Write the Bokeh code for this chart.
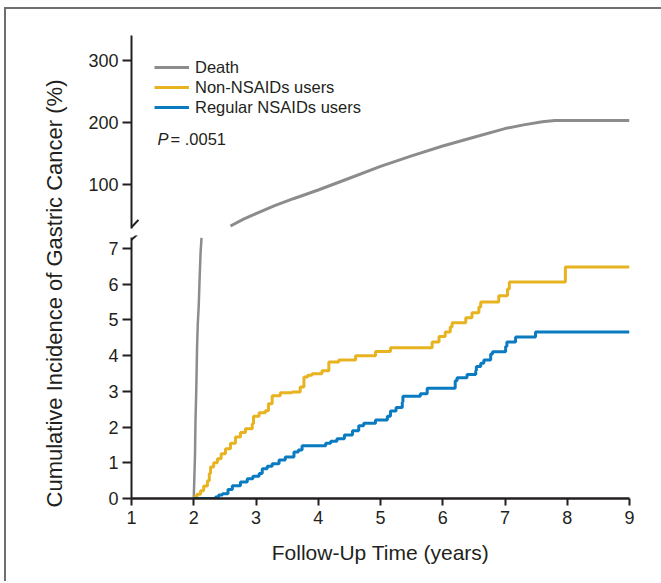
import math
from bokeh.plotting import figure
from bokeh.layouts import row, column
from bokeh.models import Range1d, Label, Arrow, Legend, LegendItem, FixedTicker
from bokeh.embed import file_html
from bokeh.resources import INLINE

# ---------------- data ----------------
x_ticks = [1, 2, 3, 4, 5, 6, 7, 8, 9]
low_ticks = [0, 1, 2, 3, 4, 5, 6, 7]
high_ticks = [100, 200, 300]

# Death (lower segment, steep rise, %)
death_low_t = [2.0, 2.01, 2.02, 2.027, 2.04, 2.054, 2.065, 2.08, 2.095, 2.11, 2.125]
death_low_v = [0.0, 0.6, 1.2, 2.1, 3.0, 4.3, 4.9, 5.4, 6.2, 6.9, 7.3]
# Death (upper segment, %)
death_high_t = [2.59, 2.8, 3.0, 3.3, 3.6, 4.0, 4.5, 5.0, 5.5, 6.0, 6.5, 7.0, 7.3, 7.6, 7.8, 9.0]
death_high_v = [33, 44, 53, 66, 77, 91, 110, 129, 146, 162, 176, 190, 196, 201, 203, 203]

# Non-NSAIDs users
non_t = [2.0, 2.05, 2.11, 2.16, 2.22, 2.25, 2.27, 2.32, 2.38, 2.44, 2.51, 2.59, 2.67, 2.75,
         2.83, 2.94, 2.96, 3.05, 3.15, 3.2, 3.26, 3.39, 3.58, 3.71, 3.77, 3.83, 3.90, 4.06,
         4.17, 4.33, 4.60, 4.92, 5.16, 5.83, 5.94, 6.04, 6.12, 6.15, 6.37, 6.47, 6.58, 6.61,
         6.90, 7.04, 7.07, 7.97, 9.0]
non_v = [0.05, 0.12, 0.22, 0.35, 0.5, 0.7, 0.88, 1.0, 1.11, 1.25, 1.39, 1.55, 1.72, 1.85,
         1.95, 2.09, 2.3, 2.4, 2.46, 2.65, 2.88, 2.96, 2.98, 3.12, 3.4, 3.45, 3.49, 3.58,
         3.82, 3.88, 4.0, 4.12, 4.22, 4.38, 4.54, 4.66, 4.80, 4.92, 5.06, 5.2, 5.36, 5.5,
         5.68, 5.87, 6.06, 6.48, 6.48]

# Regular NSAIDs users
reg_t = [2.0, 2.35, 2.40, 2.46, 2.55, 2.62, 2.75, 2.86, 2.95, 3.05, 3.10, 3.18, 3.26, 3.37,
         3.47, 3.61, 3.68, 3.74, 4.12, 4.20, 4.30, 4.42, 4.55, 4.65, 4.73, 4.92, 5.11, 5.16,
         5.25, 5.35, 5.36, 5.64, 5.75, 6.2, 6.23, 6.39, 6.53, 6.54, 6.61, 6.66, 6.77, 6.80,
         7.01, 7.03, 7.17, 7.49, 9.0]
reg_v = [0.0, 0.04, 0.1, 0.13, 0.25, 0.36, 0.46, 0.55, 0.62, 0.70, 0.83, 0.9, 0.97, 1.08,
         1.16, 1.30, 1.36, 1.48, 1.55, 1.60, 1.67, 1.78, 1.9, 2.04, 2.11, 2.20, 2.30, 2.45,
         2.55, 2.70, 2.86, 2.93, 3.09, 3.30, 3.38, 3.47, 3.58, 3.70, 3.79, 3.88, 4.05, 4.11,
         4.26, 4.38, 4.52, 4.66, 4.66]

series_names = ["Death", "Non-NSAIDs users", "Regular NSAIDs users"]
p_text = "= .0051"

# ---------------- style ----------------
GRAY = "#8c8c8e"
YELLOW = "#e8b321"
BLUE = "#0a7bc1"
INK = "#231f20"
FONT = "Liberation Sans"

FRAME_W = 498
LEFT = 53
RIGHT = 32


def style_axis(ax, tick_out):
    ax.axis_line_width = 2
    ax.axis_line_color = INK
    ax.major_tick_line_width = 2
    ax.major_tick_line_color = INK
    ax.major_tick_out = tick_out
    ax.major_tick_in = 0
    ax.minor_tick_out = 0
    ax.minor_tick_in = 0
    ax.major_label_text_font = FONT
    ax.major_label_text_font_size = "18px"
    ax.major_label_text_color = INK


def base_fig(height, y_range, x_range, top, bottom, x_axis):
    f = figure(width=LEFT + FRAME_W + RIGHT, height=height, x_range=x_range, y_range=y_range,
               toolbar_location=None, output_backend="svg",
               min_border_left=LEFT, min_border_right=RIGHT,
               min_border_top=top, min_border_bottom=bottom,
               x_axis_location="below" if x_axis else None)
    f.outline_line_color = None
    f.xgrid.visible = False
    f.ygrid.visible = False
    f.background_fill_color = "white"
    f.border_fill_color = "white"
    return f


xr = Range1d(1, 9)

# ---------------- upper panel ----------------
top = base_fig(223, Range1d(29, 340), xr, 26, 4, False)
style_axis(top.yaxis[0], 9)
top.yaxis[0].ticker = FixedTicker(ticks=high_ticks)
top.yaxis[0].major_label_standoff = 4

r_death_high = top.line(death_high_t, death_high_v, line_color=GRAY, line_width=3)
# legend proxies (their points lie below this panel's range, so only the legend shows them)
r_non_proxy = top.line(non_t[:2], non_v[:2], line_color=YELLOW, line_width=3)
r_reg_proxy = top.line(reg_t[:2], reg_v[:2], line_color=BLUE, line_width=3)

legend = Legend(items=[LegendItem(label=series_names[0], renderers=[r_death_high]),
                       LegendItem(label=series_names[1], renderers=[r_non_proxy]),
                       LegendItem(label=series_names[2], renderers=[r_reg_proxy])],
                location=(23, 111), padding=0, margin=0, spacing=0,
                glyph_width=35, glyph_height=20, label_height=20, label_standoff=6,
                label_text_font=FONT, label_text_font_size="16.5px", label_text_color=INK,
                border_line_color=None, background_fill_alpha=0)
top.add_layout(legend)

top.add_layout(Label(x=1.418, y=174, text="P", text_font=FONT, text_font_size="16.5px",
                     text_font_style="italic", text_color=INK, text_baseline="middle"))
top.add_layout(Label(x=1.627, y=174, text=p_text, text_font=FONT, text_font_size="16.5px",
                     text_color=INK, text_baseline="middle"))

top.add_layout(Arrow(x_start=0.952, y_start=25.8, x_end=1.112, y_end=43.0,
                     start=None, end=None, line_color=INK, line_width=2))

# ---------------- lower panel ----------------
bot = base_fig(349, Range1d(0, 7.365), xr, 3, 83, True)
style_axis(bot.yaxis[0], 9)
bot.yaxis[0].ticker = FixedTicker(ticks=low_ticks)
bot.yaxis[0].bounds = (0, 7.3)
bot.yaxis[0].major_label_standoff = 4
style_axis(bot.xaxis[0], 7)
bot.xaxis[0].axis_line_width = 2.5
bot.xaxis[0].ticker = FixedTicker(ticks=x_ticks)
bot.xaxis[0].major_label_standoff = 5
bot.xaxis[0].axis_label = "Follow-Up Time (years)"
bot.xaxis[0].axis_label_text_font = FONT
bot.xaxis[0].axis_label_text_font_size = "21px"
bot.xaxis[0].axis_label_text_font_style = "normal"
bot.xaxis[0].axis_label_text_color = INK
bot.xaxis[0].axis_label_standoff = 14

bot.line(death_low_t, death_low_v, line_color=GRAY, line_width=2.5)
bot.step(non_t, non_v, mode="after", line_color=YELLOW, line_width=3)
bot.step(reg_t, reg_v, mode="after", line_color=BLUE, line_width=3)

bot.add_layout(Arrow(x_start=0.952, y_start=7.17, x_end=1.112, y_end=7.42,
                     start=None, end=None, line_color=INK, line_width=2))

# ---------------- y-axis title panel ----------------
lab = figure(width=72, height=572, x_range=Range1d(0, 72), y_range=Range1d(0, 572),
             toolbar_location=None, output_backend="svg", min_border=0,
             x_axis_location=None, y_axis_location=None)
lab.outline_line_color = None
lab.xgrid.visible = False
lab.ygrid.visible = False
lab.add_layout(Label(x=48, y=288, text="Cumulative Incidence of Gastric Cancer (%)",
                     angle=math.pi / 2, text_align="center", text_baseline="middle",
                     text_font=FONT, text_font_size="22px", text_color=INK))

layout = row(lab, column(top, bot), margin=(7, 0, 0, 4),
             styles={"border-top": "2px solid #6d6e71", "border-left": "2px solid #6d6e71"})

open("out.html", "w").write(file_html(layout, INLINE))
